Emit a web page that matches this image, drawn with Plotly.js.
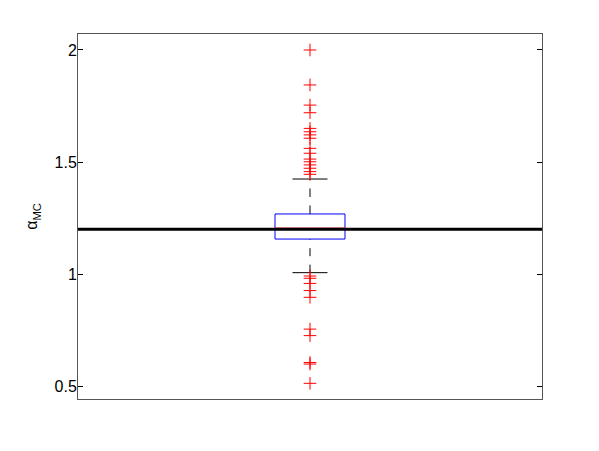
<!DOCTYPE html>
<html>
<head>
<meta charset="utf-8">
<script src="https://cdn.plot.ly/plotly-3.0.1.min.js"></script>
<style>
  body { margin: 0; background: #fff; }
  #chart { width: 599px; height: 451px; }
</style>
</head>
<body>
<div id="chart"></div>
<script>
// box statistics
const boxCenter = 1;
const boxHalfWidth = 0.0754;
const capHalfWidth = 0.0377;
const q1 = 1.156;
const median = 1.205;
const q3 = 1.268;
const lowerWhisker = 1.006;
const upperWhisker = 1.424;
const refValue = 1.2; // thick black reference line

// outliers (red +)
const highOutliers = [2.0, 1.844, 1.754, 1.72, 1.65, 1.635, 1.621, 1.606, 1.561, 1.539,
                      1.513, 1.501, 1.487, 1.472, 1.457, 1.445];
const lowOutliers = [0.991, 0.981, 0.958, 0.926, 0.896, 0.754, 0.725, 0.605, 0.598, 0.512];

const yTicks = [0.5, 1, 1.5, 2];
const yTickText = ['0.5', '1', '1.5', '2'];

const outliers = highOutliers.concat(lowOutliers);

const traces = [
    // box
    {
        x: [boxCenter - boxHalfWidth, boxCenter + boxHalfWidth, boxCenter + boxHalfWidth, boxCenter - boxHalfWidth, boxCenter - boxHalfWidth],
        y: [q1, q1, q3, q3, q1],
        mode: 'lines', type: 'scatter',
        line: { color: '#0000ff', width: 1 }
    },
    // median
    {
        x: [boxCenter - boxHalfWidth, boxCenter + boxHalfWidth],
        y: [median, median],
        mode: 'lines', type: 'scatter',
        line: { color: '#ff0000', width: 1 }
    },
    // upper whisker (dashed)
    {
        x: [boxCenter, boxCenter],
        y: [q3, upperWhisker],
        mode: 'lines', type: 'scatter',
        line: { color: '#000', width: 1, dash: '8.5px,8.5px' }
    },
    // lower whisker (dashed)
    {
        x: [boxCenter, boxCenter],
        y: [lowerWhisker, q1],
        mode: 'lines', type: 'scatter',
        line: { color: '#000', width: 1, dash: '8px,8.5px' }
    },
    // caps
    {
        x: [boxCenter - capHalfWidth, boxCenter + capHalfWidth, null, boxCenter - capHalfWidth, boxCenter + capHalfWidth],
        y: [upperWhisker, upperWhisker, null, lowerWhisker, lowerWhisker],
        mode: 'lines', type: 'scatter',
        line: { color: '#000', width: 1 }
    },
    // outliers
    {
        x: outliers.map(() => boxCenter),
        y: outliers,
        mode: 'markers', type: 'scatter',
        marker: { symbol: 'cross-thin-open', size: 9, color: '#ff0000', line: { color: '#ff0000', width: 1 } }
    }
];

const layout = {
    width: 599,
    height: 451,
    margin: { l: 78, r: 57, t: 34, b: 52 },
    paper_bgcolor: '#fff',
    plot_bgcolor: '#fff',
    showlegend: false,
    font: { family: 'Liberation Sans, Arial, sans-serif', size: 16, color: '#000' },
    xaxis: {
        range: [0.5, 1.5],
        showgrid: false, zeroline: false,
        showticklabels: false, ticks: '',
        showline: true, mirror: true, linecolor: '#555', linewidth: 1
    },
    yaxis: {
        range: [0.442, 2.0714],
        showgrid: false, zeroline: false,
        tickvals: yTicks, ticktext: yTickText,
        ticks: 'inside', ticklen: 5, tickcolor: '#000', tickwidth: 1,
        ticklabelstandoff: -3,
        showline: true, mirror: 'ticks', linecolor: '#555', linewidth: 1,
        title: { text: 'α<sub>MC</sub>', font: { size: 16 }, standoff: 12 }
    },
    shapes: [{
        type: 'line', xref: 'paper', yref: 'y',
        x0: 0, x1: 1, y0: refValue, y1: refValue,
        line: { color: '#000', width: 3 }
    }]
};

Plotly.newPlot('chart', traces, layout, { staticPlot: true });
</script>
</body>
</html>
